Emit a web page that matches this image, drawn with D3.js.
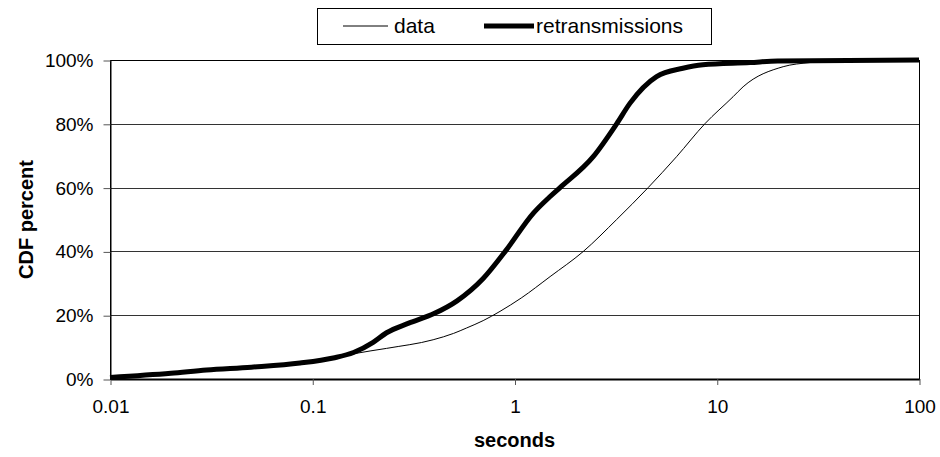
<!DOCTYPE html>
<html>
<head>
<meta charset="utf-8">
<script src="https://cdn.jsdelivr.net/npm/d3@7"></script>
<style>
  body { margin: 0; background: #fff; }
  text { font-family: "Liberation Sans", Arial, sans-serif; fill: #000; }
</style>
</head>
<body>
<svg id="chart" width="940" height="457"></svg>
<script>
// seconds vs CDF percent
const dataX = [0.01, 0.02, 0.03, 0.05, 0.087, 0.127, 0.16, 0.233, 0.396, 0.5, 0.58, 0.7, 0.848, 1.08, 1.5, 2.19, 3.2, 4.58, 6.33, 8.73, 12.05, 13.5, 21.3, 28.8, 40, 100]
const dataY = [0.5, 1.8, 2.8, 3.7, 5.0, 6.5, 7.9, 9.6, 12.3, 14.3, 16.0, 18.3, 21.2, 25.4, 32.1, 40, 50, 60, 69.7, 80, 88.5, 91.6, 97.9, 99.2, 99.8, 100]

const retrX = [0.01, 0.02, 0.03, 0.05, 0.087, 0.127, 0.16, 0.2, 0.233, 0.3, 0.4, 0.52, 0.7, 0.9, 1.24, 1.5, 1.68, 2.45, 3.2, 3.72, 5.04, 6.8, 8.54, 14.6, 20, 100]
const retrY = [0.5, 1.8, 2.8, 3.7, 5.0, 6.6, 8.3, 11.5, 14.5, 17.5, 20.5, 24.5, 31.5, 40, 52, 57.2, 60, 69.7, 80, 86.4, 94.8, 97.4, 98.5, 99.2, 99.7, 100]

const xTicks = [0.01, 0.1, 1, 10, 100]
const yTicks = [0, 20, 40, 60, 80, 100]
const seriesNames = ['data', 'retransmissions']

const SVG = d3.select("#chart")
const Margin = { top: 60, left: 110, right: 21, bottom: 78 }
const Width = 940
const Height = 457

const xscale = d3.scaleLog()
    .domain([0.01, 100])
    .range([Margin.left, Width - Margin.right])

const yscale = d3.scaleLinear()
    .domain([0, 100])
    .range([Height - Margin.bottom, Margin.top])

// gridlines
SVG.append("g")
    .selectAll("line")
    .data(yTicks.slice(1))
    .join("line")
    .attr("x1", xscale(0.01))
    .attr("x2", xscale(100))
    .attr("y1", d => Math.round(yscale(d)) + 0.5)
    .attr("y2", d => Math.round(yscale(d)) + 0.5)
    .attr("stroke", "#333")
    .attr("stroke-width", 1)

// plot border
SVG.append("rect")
    .attr("x", xscale(0.01) + 0.5)
    .attr("y", Math.round(yscale(100)) + 0.5)
    .attr("width", xscale(100) - xscale(0.01))
    .attr("height", Math.round(yscale(0)) - Math.round(yscale(100)))
    .attr("fill", "none")
    .attr("stroke", "#000")

const left = d3.axisLeft(yscale)
    .tickValues(yTicks)
    .tickFormat(d => d + "%")
    .tickSizeInner(7)
    .tickSizeOuter(0)
    .tickPadding(10)

const bottom = d3.axisBottom(xscale)
    .tickValues(xTicks)
    .tickFormat(d => String(d))
    .tickSizeInner(6)
    .tickSizeOuter(0)
    .tickPadding(15)

const gy = SVG.append("g")
    .attr("transform", `translate(${xscale(0.01) + 0.5}, 0.5)`)
    .call(left)
gy.selectAll("text").style("font-size", "19px").attr("font-family", "Liberation Sans, Arial, sans-serif")
gy.selectAll("line").attr("stroke", "#555")

const gx = SVG.append("g")
    .attr("transform", `translate(0.5, ${Math.round(yscale(0))})`)
    .call(bottom)
gx.select(".domain").attr("stroke-width", 2)
gx.selectAll("text").style("font-size", "19px").attr("font-family", "Liberation Sans, Arial, sans-serif")
gx.selectAll("line").attr("stroke", "#555")

// lines
const line = d3.line()
    .x(d => xscale(d[0]))
    .y(d => yscale(d[1]))
    .curve(d3.curveMonotoneX)

SVG.append("path")
    .datum(dataX.map((x, i) => [x, dataY[i]]))
    .attr("d", line)
    .attr("fill", "none")
    .attr("stroke", "#000")
    .attr("stroke-width", 1)

SVG.append("path")
    .datum(retrX.map((x, i) => [x, retrY[i]]))
    .attr("d", line)
    .attr("fill", "none")
    .attr("stroke", "#000")
    .attr("stroke-width", 5)
    .attr("stroke-linejoin", "round")

// axis titles
SVG.append("text")
    .text("seconds")
    .attr("transform", `translate(${xscale(1)}, 447)`)
    .style("text-anchor", "middle")
    .style("font-size", 20)
    .attr("font-weight", 700)

SVG.append("text")
    .text("CDF percent")
    .attr("transform", `translate(33, ${yscale(50)}) rotate(-90)`)
    .style("text-anchor", "middle")
    .style("font-size", 20)
    .attr("font-weight", 700)

// legend
const Legend = SVG.append("g")
Legend.append("rect")
    .attr("x", 317.5)
    .attr("y", 8.5)
    .attr("width", 394)
    .attr("height", 36)
    .attr("fill", "#fff")
    .attr("stroke", "#000")

const legendItems = [
    { name: seriesNames[0], x1: 343, x2: 388, tx: 394, w: 1 },
    { name: seriesNames[1], x1: 484, x2: 534, tx: 536, w: 5 }
]
for (const item of legendItems) {
    Legend.append("line")
        .attr("x1", item.x1)
        .attr("x2", item.x2)
        .attr("y1", 26)
        .attr("y2", 26)
        .attr("stroke", "#000")
        .attr("stroke-width", item.w)
    Legend.append("text")
        .text(item.name)
        .attr("x", item.tx)
        .attr("y", 33)
        .style("font-size", 21)
}
</script>
</body>
</html>
